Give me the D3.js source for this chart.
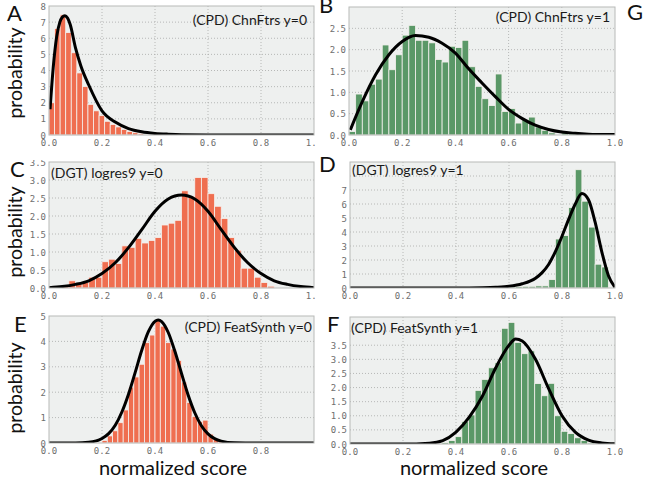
<!DOCTYPE html>
<html>
<head>
<meta charset="utf-8">
<script src="https://cdn.jsdelivr.net/npm/d3@7"></script>
<style>
  body { margin: 0; background: #fff; }
  svg { display: block; }
</style>
</head>
<body>
<script>
/*
    Histogram values (probability density), one
    array per panel, plus the first bin edge and bin width of each.
*/
var xTickValues = [0, 0.2, 0.4, 0.6, 0.8, 1.0];

var aBinStart = 0, aBinWidth = 0.021;
var aBars = [2.0, 6.6, 7.45, 6.35, 5.1, 3.85, 3.0, 1.9, 1.5, 1.2, 0.85, 0.65,
    0.5, 0.35, 0.22, 0.14, 0.08, 0.05, 0.03, 0.02, 0.015, 0.01, 0.01];

var bBinStart = 0, bBinWidth = 0.025;
var bBars = [0.08, 0.96, 0.8, 1.19, 1.31, 2.11, 1.53, 1.88, 2.34, 2.57, 2.22,
    2.22, 2.16, 1.77, 1.71, 2.08, 2.05, 2.22, 1.6, 1.14, 0.85, 0.69, 1.43, 0.55,
    0.62, 0.28, 0.36, 0.42, 0.19, 0.11, 0.05, 0.0, 0.05, 0.05, 0.04, 0.04, 0.04,
    0.03, 0.03, 0.03];

var cBinStart = 0.05, cBinWidth = 0.025;
var cBars = [0.05, 0.2, 0.12, 0.16, 0.3, 0.3, 0.73, 0.8, 0.68, 1.17, 1.13, 1.38,
    1.25, 1.32, 1.4, 1.75, 1.8, 1.88, 2.7, 2.55, 3.07, 3.07, 2.62, 2.27, 1.93,
    1.4, 1.05, 0.55, 0.55, 0.3, 0.15, 0.05];

var dBinStart = 0.55, dBinWidth = 0.025;
var dBars = [0.08, 0.08, 0.08, 0.1, 0.12, 0.12, 0.15, 0.15, 0.6, 3.5, 3.75,
    5.75, 8.45, 6.2, 4.35, 1.7, 1.5];

var eBinStart = 0.18, eBinWidth = 0.02;
var eBars = [0.03, 0.1, 0.28, 0.48, 0.8, 1.3, 2.2, 2.6, 3.1, 3.95, 4.25, 4.85,
    4.6, 3.95, 3.7, 3.25, 2.4, 1.6, 1.05, 0.85, 0.9, 0.35, 0.15, 0.05];

var fBinStart = 0.322, fBinWidth = 0.025;
var fBars = [0.03, 0.05, 0.12, 0.26, 0.8, 1.03, 1.9, 2.29, 2.7, 2.88, 4.1, 4.31,
    3.6, 3.2, 3.3, 2.14, 1.71, 2.15, 1.0, 0.45, 0.37, 0.22, 0.12, 0.04];

/*
    Fitted density curves, sampled from the black line in each panel.
*/
var aCurveX = [0.004, 0.016, 0.029, 0.041, 0.05, 0.06, 0.07, 0.08, 0.1, 0.12,
    0.15, 0.2, 0.25, 0.3, 0.35, 0.4, 0.45, 0.5, 0.6, 1.0];
var aCurveY = [1.6, 4.2, 6.1, 7.0, 7.3, 7.4, 7.25, 6.85, 5.4, 4.3, 3.1, 1.5,
    0.8, 0.4, 0.2, 0.1, 0.05, 0.02, 0.005, 0.0];

var bCurveX = [0.005, 0.05, 0.1, 0.15, 0.2, 0.25, 0.3, 0.35, 0.4, 0.45, 0.5,
    0.55, 0.6, 0.65, 0.7, 0.75, 0.8, 0.85, 0.9, 0.95, 1.0];
var bCurveY = [0.12, 0.78, 1.41, 1.88, 2.19, 2.33, 2.29, 2.15, 1.92, 1.55, 1.22,
    0.9, 0.6, 0.39, 0.23, 0.13, 0.07, 0.04, 0.02, 0.01, 0.01];

var cCurveX = [0.0, 0.05, 0.1, 0.15, 0.2, 0.25, 0.3, 0.35, 0.4, 0.45, 0.5, 0.55,
    0.6, 0.65, 0.7, 0.75, 0.8, 0.85, 0.9, 0.95, 1.0];
var cCurveY = [0.01, 0.04, 0.1, 0.2, 0.4, 0.7, 1.12, 1.62, 2.13, 2.47, 2.58,
    2.47, 2.13, 1.62, 1.12, 0.7, 0.4, 0.2, 0.1, 0.04, 0.01];

var dCurveX = [0.0, 0.4, 0.5, 0.55, 0.6, 0.65, 0.7, 0.725, 0.75, 0.775, 0.8,
    0.825, 0.85, 0.875, 0.9, 0.925, 0.95, 0.975, 1.0];
var dCurveY = [0.0, 0.0, 0.02, 0.05, 0.12, 0.3, 0.7, 1.1, 1.7, 2.6, 3.7, 4.9,
    6.0, 6.75, 6.3, 4.7, 2.6, 0.9, 0.05];

var eCurveX = [0.0, 0.1, 0.15, 0.2, 0.225, 0.25, 0.275, 0.3, 0.325, 0.35, 0.375,
    0.4, 0.412, 0.425, 0.45, 0.475, 0.5, 0.525, 0.55, 0.575, 0.6, 0.625, 0.65,
    0.7, 0.8, 1.0];
var eCurveY = [0.0, 0.0, 0.03, 0.18, 0.37, 0.7, 1.22, 1.92, 2.77, 3.65, 4.38,
    4.79, 4.84, 4.78, 4.35, 3.61, 2.74, 1.89, 1.19, 0.68, 0.36, 0.17, 0.075,
    0.01, 0.0, 0.0];

var fCurveX = [0.0, 0.2, 0.3, 0.35, 0.4, 0.45, 0.5, 0.55, 0.6, 0.625, 0.65, 0.7,
    0.75, 0.8, 0.85, 0.9, 0.95, 1.0];
var fCurveY = [0.0, 0.0, 0.03, 0.12, 0.42, 0.95, 1.7, 2.7, 3.5, 3.72, 3.65, 3.0,
    1.95, 1.0, 0.42, 0.14, 0.04, 0.01];

/* y tick labels shown per panel, and the extra grid rows above them */
var aYTicks = [0, 1, 2, 3, 4, 5, 6, 7, 8];
var bYTicks = [0, 0.5, 1.0, 1.5, 2.0, 2.5];
var cYTicks = [0, 0.5, 1.0, 1.5, 2.0, 2.5, 3.0, 3.5];
var dYTicks = [0, 1, 2, 3, 4, 5, 6, 7];
var eYTicks = [0, 1, 2, 3, 4, 5];
var fYTicks = [0, 0.5, 1.0, 1.5, 2.0, 2.5, 3.0, 3.5];
var dYGrid = [1, 2, 3, 4, 5, 6, 7, 8];
var fYGrid = [0.5, 1.0, 1.5, 2.0, 2.5, 3.0, 3.5, 4.0];

var panelLetters = ["A", "B", "C", "D", "E", "F"];
var panelTitles = ["(CPD) ChnFtrs y=0", "(CPD) ChnFtrs y=1",
    "(DGT) logres9 y=0", "(DGT) logres9 y=1",
    "(CPD) FeatSynth y=0", "(CPD) FeatSynth y=1"];

var orange = "#ef6e50";
var green = "#5a9867";

/*
    Layout of each small panel: plot box, the crop of the sub-figure,
    where the title and letter go.
*/
var panels = [
    {bars: aBars, start: aBinStart, width: aBinWidth, cx: aCurveX, cy: aCurveY,
     yMax: 8, ticks: aYTicks, grid: aYTicks, fmt: "d", fill: orange,
     box: [49, 6, 265, 129], crop: [0, 0, 316, 151], xLabels: xTickValues,
     title: [307, 25, "end"], letter: [7, 21]},
    {bars: bBars, start: bBinStart, width: bBinWidth, cx: bCurveX, cy: bCurveY,
     yMax: 3.0, ticks: bYTicks, grid: bYTicks, fmt: ".1f", fill: green,
     box: [349, 7, 266, 128], crop: [318, 0, 328, 151], xLabels: xTickValues,
     title: [610, 22, "end"], letter: [319, 13]},
    {bars: cBars, start: cBinStart, width: cBinWidth, cx: cCurveX, cy: cCurveY,
     yMax: 3.5, ticks: cYTicks, grid: cYTicks, fmt: ".1f", fill: orange,
     box: [49, 162, 265, 126], crop: [0, 160, 316, 142], xLabels: xTickValues,
     title: [51, 178, "start"], letter: [10, 177]},
    {bars: dBars, start: dBinStart, width: dBinWidth, cx: dCurveX, cy: dCurveY,
     yMax: 9, ticks: dYTicks, grid: dYGrid, fmt: "d", fill: green,
     box: [350, 162, 265, 126], crop: [318, 151, 328, 151], xLabels: xTickValues,
     title: [352, 175, "start"], letter: [319, 172]},
    {bars: eBars, start: eBinStart, width: eBinWidth, cx: eCurveX, cy: eCurveY,
     yMax: 5, ticks: eYTicks, grid: eYTicks, fmt: "d", fill: orange,
     box: [49, 316, 265, 127], crop: [0, 302, 316, 177], xLabels: [0, 0.2, 0.4, 0.6, 0.8],
     title: [312, 332, "end"], letter: [14, 332]},
    {bars: fBars, start: fBinStart, width: fBinWidth, cx: fCurveX, cy: fCurveY,
     yMax: 4.5, ticks: fYTicks, grid: fYGrid, fmt: ".1f", fill: green,
     box: [350, 317, 265, 127], crop: [318, 302, 328, 177], xLabels: xTickValues,
     title: [351, 333, "start"], letter: [327, 332]}
];

var svg = d3.select("body")
    .append("svg")
    .attr("width", 646)
    .attr("height", 479);

var defs = svg.append("defs");

panels.forEach(function(p, k){
    var bx = p.box[0], by = p.box[1], bw = p.box[2], bh = p.box[3];

    var xScale = d3.scaleLinear().domain([0, 1]).range([bx, bx + bw]);
    var yScale = d3.scaleLinear().domain([0, p.yMax]).range([by + bh, by]);

    defs.append("clipPath").attr("id", "crop" + k)
        .append("rect")
        .attr("x", p.crop[0]).attr("y", p.crop[1])
        .attr("width", p.crop[2]).attr("height", p.crop[3]);
    defs.append("clipPath").attr("id", "plot" + k)
        .append("rect")
        .attr("x", bx).attr("y", by)
        .attr("width", bw).attr("height", bh);

    var g = svg.append("g").attr("clip-path", "url(#crop" + k + ")");

    // plot background
    g.append("rect")
        .attr("x", bx).attr("y", by)
        .attr("width", bw).attr("height", bh)
        .style("fill", "#eef0ef");

    // dotted grid
    g.selectAll(".vgrid")
        .data([0.2, 0.4, 0.6, 0.8])
        .enter()
        .append("line")
        .attr("x1", function(d){ return xScale(d); })
        .attr("x2", function(d){ return xScale(d); })
        .attr("y1", by).attr("y2", by + bh)
        .style("stroke", "#a8aaa8")
        .style("stroke-width", 0.8)
        .style("stroke-dasharray", "1,2");

    g.selectAll(".hgrid")
        .data(p.grid.filter(function(d){ return d > 0 && d < p.yMax; }))
        .enter()
        .append("line")
        .attr("x1", bx).attr("x2", bx + bw)
        .attr("y1", function(d){ return yScale(d); })
        .attr("y2", function(d){ return yScale(d); })
        .style("stroke", "#a8aaa8")
        .style("stroke-width", 0.8)
        .style("stroke-dasharray", "1,2");

    // histogram bars
    g.append("g")
        .selectAll("rect")
        .data(p.bars)
        .enter()
        .append("rect")
        .attr("x", function(d, i){ return xScale(p.start + i * p.width); })
        .attr("y", function(d){ return yScale(d); })
        .attr("width", xScale(p.width) - xScale(0))
        .attr("height", function(d){ return yScale(0) - yScale(d); })
        .style("fill", p.fill)
        .style("stroke", "#f4f1ee")
        .style("stroke-width", 0.8);

    // fitted curve
    var pts = p.cx.map(function(x, i){ return [x, p.cy[i]]; });
    var line = d3.line()
        .x(function(d){ return xScale(d[0]); })
        .y(function(d){ return yScale(d[1]); })
        .curve(d3.curveMonotoneX);

    g.append("path")
        .datum(pts)
        .attr("d", line)
        .attr("clip-path", "url(#plot" + k + ")")
        .style("fill", "none")
        .style("stroke", "#000")
        .style("stroke-width", 3)
        .style("stroke-linejoin", "round");

    // frame
    g.append("rect")
        .attr("x", bx).attr("y", by)
        .attr("width", bw).attr("height", bh)
        .style("fill", "none")
        .style("stroke", "#b8bab8")
        .style("stroke-width", 1);

    // tick labels
    g.selectAll(".xlab")
        .data(p.xLabels)
        .enter()
        .append("text")
        .attr("x", function(d){ return xScale(d); })
        .attr("y", by + bh + 11)
        .attr("text-anchor", "middle")
        .style("font-family", "'DejaVu Sans Mono', monospace")
        .style("font-size", "9px")
        .style("fill", "#6e6e6e")
        .text(d3.format(".1f"));

    g.selectAll(".ylab")
        .data(p.ticks)
        .enter()
        .append("text")
        .attr("x", bx - 3)
        .attr("y", function(d){ return yScale(d) + 3.5; })
        .attr("text-anchor", "end")
        .style("font-family", "'DejaVu Sans Mono', monospace")
        .style("font-size", "9px")
        .style("fill", "#6e6e6e")
        .text(d3.format(p.fmt));

    // title inside the plot
    g.append("text")
        .attr("x", p.title[0])
        .attr("y", p.title[1])
        .attr("text-anchor", p.title[2])
        .style("font-family", "Lato, 'Open Sans', sans-serif")
        .style("font-size", "14px")
        .style("fill", "#1a1a1a")
        .text(panelTitles[k]);

    // panel letter
    svg.append("text")
        .attr("x", p.letter[0])
        .attr("y", p.letter[1])
        .style("font-family", "Lato, 'Open Sans', sans-serif")
        .style("font-size", "22px")
        .style("fill", "#111")
        .text(panelLetters[k]);
});

svg.append("text")
    .attr("x", 627)
    .attr("y", 20)
    .style("font-family", "Lato, 'Open Sans', sans-serif")
    .style("font-size", "22px")
    .style("fill", "#111")
    .text("G");

/* shared axis titles */
var yTitleCenters = [73, 232, 388];
svg.selectAll(".ytitle")
    .data(yTitleCenters)
    .enter()
    .append("text")
    .attr("transform", function(d){ return "translate(22," + d + ") rotate(-90)"; })
    .attr("text-anchor", "middle")
    .style("font-family", "Lato, 'Open Sans', sans-serif")
    .style("font-size", "19.5px")
    .style("fill", "#111")
    .text("probability");

svg.selectAll(".xtitle")
    .data([173, 474])
    .enter()
    .append("text")
    .attr("x", function(d){ return d; })
    .attr("y", 475)
    .attr("text-anchor", "middle")
    .style("font-family", "Lato, 'Open Sans', sans-serif")
    .style("font-size", "20px")
    .style("fill", "#111")
    .text("normalized score");
</script>
</body>
</html>
